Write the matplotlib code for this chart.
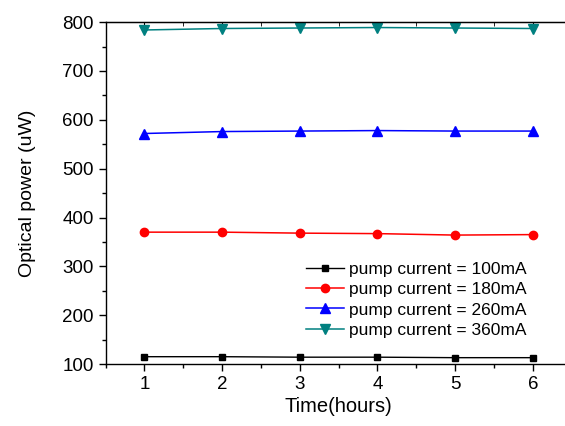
import matplotlib
matplotlib.use('Agg')
import matplotlib.pyplot as plt
from matplotlib.ticker import MultipleLocator

plt.rcParams['font.family'] = ['Liberation Sans', 'DejaVu Sans']

hours = [1, 2, 3, 4, 5, 6]
p100 = [115, 115, 114, 114, 113, 113]
p180 = [370, 370, 368, 367, 364, 365]
p260 = [572, 576, 577, 578, 577, 577]
p360 = [784, 787, 788, 789, 788, 787]
labels = ['pump current = 100mA', 'pump current = 180mA',
          'pump current = 260mA', 'pump current = 360mA']

fig = plt.figure(figsize=(5.65, 4.26), dpi=100)
ax = fig.add_axes([0.187, 0.1455, 0.8247, 0.8025])

ax.plot(hours, p100, '-s', color='black', lw=1, ms=5, label=labels[0])
ax.plot(hours, p180, '-o', color='red', lw=1.1, ms=6, label=labels[1])
ax.plot(hours, p260, '-^', color='blue', lw=1.1, ms=7, label=labels[2])
ax.plot(hours, p360, '-v', color='#008080', lw=1.1, ms=7, label=labels[3])

ax.set_xlim(0.5, 6.5)
ax.set_ylim(100, 800)
ax.xaxis.set_major_locator(MultipleLocator(1))
ax.xaxis.set_minor_locator(MultipleLocator(0.5))
ax.yaxis.set_major_locator(MultipleLocator(100))
ax.yaxis.set_minor_locator(MultipleLocator(50))
ax.tick_params(which='both', direction='out', top=False, right=False, labelsize=13.5, width=1)
ax.tick_params(which='major', length=5)
ax.tick_params(which='minor', length=3)
ax.spines['right'].set_visible(False)
for s in ['left', 'bottom', 'top']:
    ax.spines[s].set_linewidth(1)

# top axis ticks point inwards
sec = ax.secondary_xaxis('top')
sec.xaxis.set_major_locator(MultipleLocator(1))
sec.xaxis.set_minor_locator(MultipleLocator(0.5))
sec.tick_params(which='both', direction='in', labeltop=False)
sec.tick_params(which='major', length=5)
sec.tick_params(which='minor', length=3)

ax.set_xlabel('Time(hours)', fontsize=14.5, labelpad=3)
ax.set_ylabel('Optical power (uW)', fontsize=14, labelpad=19)

ax.legend(loc='upper left', bbox_to_anchor=(297 / 565, 1 - 253 / 426),
          bbox_transform=fig.transFigure, frameon=False, fontsize=12.5,
          handlelength=2.2, handletextpad=0.3, labelspacing=0.3, borderpad=0)

fig.savefig('out.png', dpi=100)
